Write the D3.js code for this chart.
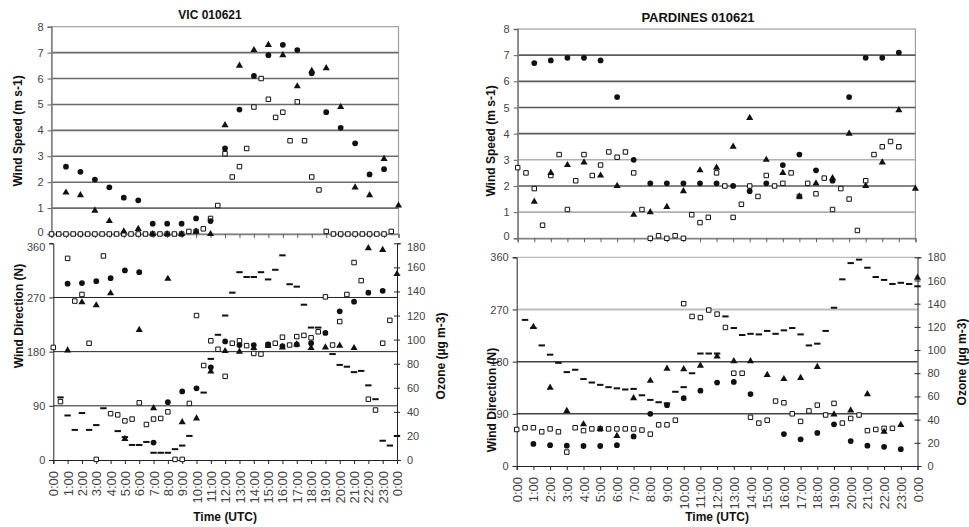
<!DOCTYPE html>
<html><head><meta charset="utf-8">
<script src="https://cdn.jsdelivr.net/npm/d3@7"></script>
<style>
body{margin:0;background:#fff}
svg{display:block}
text{font-family:"Liberation Sans",Arial,Helvetica,sans-serif}
</style>
</head><body>
<svg id="c" width="969" height="527"></svg>
<script>
// ---------- shared axes ----------
const hours = d3.range(0, 25);                 // 0..24 hourly
const halfHours = d3.range(0, 24.01, 0.5);     // 0..24 half-hourly (49)
const timeLabels = hours.map(h => (h % 24) + ":00");
const speedTicks = [0,1,2,3,4,5,6,7,8];
const dirTicks = [0,90,180,270,360];
const ozoneTicks = [0,20,40,60,80,100,120,140,160,180];

// ---------- VIC 010621 ----------
// hourly (index = hour 0..24)
const vicSpeedCircle = [null,2.6,2.4,2.1,1.8,1.4,1.3,0.4,0.4,0.4,0.6,0.5,3.3,4.8,6.1,6.9,7.3,7.1,6.2,4.7,4.1,3.5,2.3,2.5,null];
const vicSpeedTriangle = [null,1.6,1.5,0.9,0.5,0.1,0.2,0,0,0,0.1,0,4.2,6.5,7.1,7.3,6.9,5.7,6.3,6.4,4.9,1.8,1.5,2.9,1.1];
// half-hourly (index = hour*2)
const vicSpeedSquare = [0,0,0,0,0,0,0,0,0,0, 0,0,0,0,0,0,0,0,0,0.1, 0.1,0.2,0.6,1.1,3.1,2.2,2.6,3.3,4.9,6.0,
  5.2,4.5,4.7,3.6,5.1,3.6,2.2,1.7,0.1,0, 0,0,0,0,0,0,0,0.1,null];
const vicDirCircle = [null,293,294,297,302,315,312,29,96,114,119,154,197,191,191,192,189,192,194,211,247,263,278,281,null];
const vicDirTriangle = [null,182,262,257,277,35,216,86,301,63,69,147,181,180,186,190,187,192,186,187,190,186,352,349,309];
const vicDirSquare = [187,97,335,264,275,194,1,339,77,75, 65,68,95,59,68,69,80,1,1,94,
  240,157,198,184,139,194,198,190,177,176, 191,194,204,191,205,207,203,213,271,191,
  230,275,328,298,101,83,194,232,null];
const vicOzone = [null,52,37,25,39,25,29,43,null,24, 19,12.5,12.5,15,6,6,6,9,12,20,
  null,56,84,104,120,139,156,152,152,156, 150,158,170,146,144,129,110,110,null,88,
  79,77.5,73,74,62,50.5,16,12,20];

// ---------- PARDINES 010621 ----------
const parSpeedCircle = [null,6.7,6.8,6.9,6.9,6.8,5.4,3.0,2.1,2.1,2.1,2.1,2.1,2.0,1.8,2.1,2.8,3.2,2.6,2.2,5.4,6.9,6.9,7.1,null];
const parSpeedTriangle = [null,1.4,2.5,2.8,2.9,2.4,2.0,0.9,1.0,1.2,1.8,2.6,2.7,3.5,4.6,3.0,2.5,1.6,2.1,2.3,4.0,2.0,2.9,4.9,1.9];
const parSpeedSquare = [2.7,2.5,1.9,0.5,2.4,3.2,1.1,2.2,3.2,2.4, 2.8,3.3,3.1,3.3,2.5,1.1,0,0.1,0,0.1,
  0,0.9,0.6,0.8,2.5,2.0,0.8,1.3,2.0,1.6, 2.4,2.0,2.1,2.5,1.6,2.1,1.7,2.3,1.1,1.9,
  1.5,0.3,2.2,3.2,3.5,3.7,3.5,null,null];
const parDirCircle = [null,38,36,35,34.5,34.5,36,51,90,105,117,130,144,145,124,null,55,46,57,72,43,35,33,29,null];
const parDirTriangle = [null,240,135,95,72,64,52,117,147,168,167,173,189,181,181,157,150,152,171,89,96,124,59,71,325];
const parDirSquare = [63,66,66,59,64,59,24,66,61,64, 64,64,64,64,64,62,55,71,71,79,
  280,258,256,269,262,239,160,160,84,74, 79,112,109,90,77,95,105,88,108,74,
  82,88,61,63,65,65,null,null,null];
const parOzone = [null,126,119,104,96,89,81,83,75,72, 70,68,67,66,66.5,61,57,55,54,64,
  68,80,97,97,97,129,119,113,114,113.5, 116.5,114,117,119,113.5,104,105.5,116.5,136.5,161,
  175,178,171,163,160.5,157,158,157,155];

const svg = d3.select("#c");

function drawChart(cfg) {
  const g = svg.append("g");
  const xTop = d3.scaleLinear().domain([0,24]).range([cfg.top.x0, cfg.top.x1]);
  const yTop = d3.scaleLinear().domain([0,8]).range([cfg.top.y0, cfg.top.y1]);
  const xBot = d3.scaleLinear().domain([0,24]).range([cfg.bot.x0, cfg.bot.x1]);
  const yDir = d3.scaleLinear().domain([0,360]).range([cfg.bot.y0, cfg.bot.y1]);
  const yOz = d3.scaleLinear().domain([0,180]).range([cfg.bot.y0, cfg.bot.y1]);

  // ---- title
  g.append("text").attr("x", cfg.titleX).attr("y", cfg.titleY)
    .attr("text-anchor","middle").attr("font-size", cfg.titleSize).attr("font-weight","bold")
    .attr("fill","#111").text(cfg.title);

  // ---- top panel frame & grid
  g.append("rect").attr("x", xTop(0)).attr("y", yTop(8))
    .attr("width", xTop(24)-xTop(0)).attr("height", yTop(0)-yTop(8))
    .attr("fill","none").attr("stroke","#a0a0a0").attr("stroke-width",1.2);
  g.append("g").selectAll("line").data(speedTicks.filter(t => t>0 && t<8)).join("line")
    .attr("x1", xTop(0)).attr("x2", xTop(24))
    .attr("y1", d => yTop(d)).attr("y2", d => yTop(d))
    .attr("stroke", d => cfg.speedGridColor(d)).attr("stroke-width",1.6);

  const axTopL = g.append("g").attr("transform",`translate(${xTop(0)},0)`)
    .call(d3.axisLeft(yTop).tickValues(speedTicks).tickSize(4).tickPadding(4));
  const axTopB = g.append("g").attr("transform",`translate(0,${yTop(0)})`)
    .call(d3.axisBottom(xTop).tickValues(hours).tickSize(4).tickFormat(""));
  [axTopL, axTopB].forEach(a => {
    a.select(".domain").attr("stroke","#808080").attr("stroke-width",1.5);
    a.selectAll(".tick line").attr("stroke","#606060");
    a.selectAll(".tick text").attr("font-size",11).attr("fill","#444")
      .attr("font-family","Liberation Sans, Arial, sans-serif");
  });
  // nudge the "0" label up so it clears the "360" label below
  axTopL.selectAll(".tick text").filter(d => d === 0).attr("dy","0.1em");

  // ---- bottom panel grid
  g.append("g").selectAll("line").data(cfg.dirGrid).join("line")
    .attr("x1", xBot(0)).attr("x2", xBot(24))
    .attr("y1", d => yDir(d.v)).attr("y2", d => yDir(d.v))
    .attr("stroke", d => d.c).attr("stroke-width", d => d.w);

  const axDirL = g.append("g").attr("transform",`translate(${xBot(0)},0)`)
    .call(d3.axisLeft(yDir).tickValues(dirTicks).tickSize(4).tickPadding(4));
  const axOzR = g.append("g").attr("transform",`translate(${xBot(24)},0)`)
    .call(d3.axisRight(yOz).tickValues(ozoneTicks).tickSize(4).tickPadding(6));
  axOzR.selectAll(".tick line").attr("x1",-3).attr("x2",3);
  const axBotB = g.append("g").attr("transform",`translate(0,${yDir(0)})`)
    .call(d3.axisBottom(xBot).tickValues(hours).tickSize(4).tickFormat(i => timeLabels[i]));
  axBotB.selectAll(".tick text")
    .attr("transform","rotate(-90)").attr("text-anchor","end")
    .attr("x",-11).attr("y",0).attr("dy","0.35em").attr("font-size",13);
  [axDirL, axOzR, axBotB].forEach(a => {
    a.select(".domain").attr("stroke","#222").attr("stroke-width",1);
    a.selectAll(".tick line").attr("stroke","#222");
    a.selectAll(".tick text").attr("fill","#444")
      .attr("font-family","Liberation Sans, Arial, sans-serif");
  });
  axDirL.selectAll(".tick text").attr("font-size",11);
  axOzR.selectAll(".tick text").attr("font-size",11);
  if (cfg.shift360) {
    axDirL.selectAll(".tick text").filter(d => d === 360).attr("dy","0.62em");
    axOzR.selectAll(".tick text").filter(d => d === 180).attr("dy","0.62em");
  }

  // ---- axis titles
  const rot = (x, y, s) => g.append("text")
    .attr("transform",`translate(${x},${y}) rotate(-90)`)
    .attr("text-anchor","middle").attr("dy","0.35em")
    .attr("font-size",12).attr("font-weight","bold").attr("fill","#111").text(s);
  rot(cfg.speedLabel[0], cfg.speedLabel[1], "Wind Speed (m s-1)");
  rot(cfg.dirLabel[0], cfg.dirLabel[1], "Wind Direction (N)");
  rot(cfg.ozLabel[0], cfg.ozLabel[1], "Ozone (µg m-3)");
  g.append("text").attr("x", (xBot(0)+xBot(24))/2).attr("y", 521)
    .attr("text-anchor","middle").attr("font-size",12).attr("font-weight","bold")
    .attr("fill","#111").text("Time (UTC)");

  // ---- markers
  const hourly = arr => hours.map((h,i) => ({h, v: arr[i]})).filter(d => d.v != null);
  const half = arr => halfHours.map((h,i) => ({h, v: arr[i]})).filter(d => d.v != null);
  const sq = d3.symbol().type(d3.symbolSquare).size(20)();
  const tri = d3.symbol().type(d3.symbolTriangle).size(22)();
  const cir = d3.symbol().type(d3.symbolCircle).size(26)();

  function squares(data, x, y) {
    g.append("g").selectAll("path").data(data).join("path")
      .attr("d", sq).attr("transform", d => `translate(${x(d.h)},${y(d.v)})`)
      .attr("fill","#fff").attr("stroke","#111").attr("stroke-width",1);
  }
  function dashes(data, x, y) {
    g.append("g").selectAll("rect").data(data).join("rect")
      .attr("x", d => x(d.h)-3.2).attr("y", d => y(d.v)-1)
      .attr("width",6.4).attr("height",2).attr("fill","#111");
  }
  function filled(data, x, y, shape) {
    g.append("g").selectAll("path").data(data).join("path")
      .attr("d", shape).attr("transform", d => `translate(${x(d.h)},${y(d.v)})`)
      .attr("fill","#111");
  }
  // top: wind speed
  squares(half(cfg.speedSquare), xTop, yTop);
  filled(hourly(cfg.speedTriangle), xTop, yTop, tri);
  filled(hourly(cfg.speedCircle), xTop, yTop, cir);
  // bottom: direction + ozone
  squares(half(cfg.dirSquare), xBot, yDir);
  dashes(half(cfg.ozone), xBot, yOz);
  filled(hourly(cfg.dirTriangle), xBot, yDir, tri);
  filled(hourly(cfg.dirCircle), xBot, yDir, cir);
}

drawChart({
  title: "VIC 010621", titleX: 210, titleY: 19, titleSize: 12, shift360: true,
  top: {x0: 51.5, x1: 398.5, y0: 234, y1: 26.7},
  bot: {x0: 53.3, x1: 397, y0: 460, y1: 243.3},
  speedGridColor: d => "#6a6a6a",
  dirGrid: [{v:90,c:"#222",w:1},{v:180,c:"#222",w:1},{v:270,c:"#222",w:1}],
  speedLabel: [18, 131], dirLabel: [19, 316], ozLabel: [441, 356],
  speedCircle: vicSpeedCircle, speedTriangle: vicSpeedTriangle, speedSquare: vicSpeedSquare,
  dirCircle: vicDirCircle, dirTriangle: vicDirTriangle, dirSquare: vicDirSquare, ozone: vicOzone
});

drawChart({
  title: "PARDINES 010621", titleX: 698, titleY: 22, titleSize: 13, shift360: false,
  top: {x0: 517.7, x1: 915.4, y0: 238.3, y1: 29},
  bot: {x0: 516.7, x1: 917.5, y0: 466, y1: 257.3},
  speedGridColor: d => (d === 3 || d === 1) ? "#b0b0b0" : "#5a5a5a",
  dirGrid: [{v:360,c:"#bbb",w:1.2},{v:270,c:"#bdbdbd",w:2},{v:180,c:"#444",w:1.5},{v:90,c:"#444",w:1.5}],
  speedLabel: [491, 141], dirLabel: [492, 400], ozLabel: [962, 362],
  speedCircle: parSpeedCircle, speedTriangle: parSpeedTriangle, speedSquare: parSpeedSquare,
  dirCircle: parDirCircle, dirTriangle: parDirTriangle, dirSquare: parDirSquare, ozone: parOzone
});
</script>
</body></html>
